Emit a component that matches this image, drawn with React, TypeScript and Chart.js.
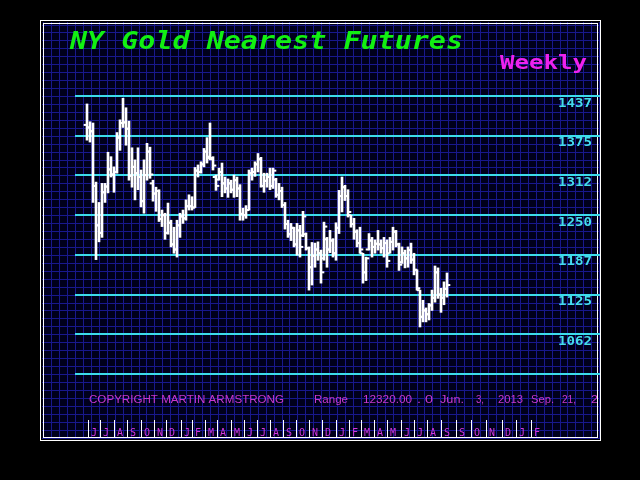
import React, { useEffect, useRef } from 'react';
import { Chart, registerables } from 'chart.js';

Chart.register(...registerables);

// Weekly OHLC, NY Gold nearest futures
const HIGH = [
  1425, 1397, 1395, 1302, 1270, 1300, 1300, 1349, 1342, 1326,
  1380, 1400, 1434, 1419, 1398, 1356, 1337, 1356, 1321, 1337,
  1363, 1357, 1305, 1294, 1290, 1258, 1253, 1269, 1242, 1231,
  1242, 1253, 1258, 1274, 1282, 1279, 1325, 1329, 1334, 1355,
  1372, 1395, 1342, 1313, 1324, 1332, 1310, 1307, 1305, 1313,
  1310, 1298, 1261, 1265, 1321, 1324, 1334, 1347, 1341, 1316,
  1316, 1324, 1324, 1308, 1300, 1294, 1270, 1242, 1237, 1231,
  1237, 1234, 1256, 1222, 1200, 1207, 1206, 1208, 1195, 1239,
  1215, 1226, 1213, 1238, 1289, 1310, 1297, 1290, 1250, 1245,
  1227, 1231, 1190, 1184, 1221, 1215, 1211, 1226, 1211, 1215,
  1211, 1215, 1231, 1226, 1206, 1200, 1195, 1200, 1206, 1190,
  1164, 1132, 1116, 1104, 1111, 1132, 1170, 1167, 1135, 1145,
  1159,
];
const LOW = [
  1368, 1365, 1270, 1180, 1208, 1215, 1270, 1285, 1310, 1286,
  1316, 1352, 1388, 1360, 1305, 1294, 1274, 1290, 1263, 1253,
  1305, 1308, 1272, 1256, 1240, 1232, 1212, 1220, 1200, 1190,
  1184, 1215, 1237, 1242, 1258, 1258, 1262, 1310, 1316, 1326,
  1332, 1337, 1321, 1289, 1305, 1279, 1285, 1278, 1285, 1278,
  1279, 1242, 1242, 1245, 1258, 1305, 1311, 1318, 1294, 1286,
  1294, 1290, 1292, 1278, 1274, 1262, 1228, 1215, 1210, 1200,
  1187, 1184, 1216, 1195, 1132, 1140, 1168, 1179, 1143, 1179,
  1168, 1191, 1184, 1179, 1221, 1255, 1273, 1247, 1231, 1212,
  1200, 1190, 1143, 1147, 1195, 1184, 1190, 1195, 1190, 1184,
  1168, 1190, 1195, 1200, 1163, 1174, 1167, 1168, 1174, 1156,
  1132, 1074, 1082, 1082, 1085, 1100, 1113, 1119, 1097, 1109,
  1121,
];
const OPEN = [
  1392, 1388, 1382, 1296, 1234, 1222, 1286, 1295, 1322, 1314,
  1318, 1372, 1395, 1396, 1386, 1312, 1326, 1316, 1310, 1272,
  1313, 1350, 1300, 1284, 1288, 1244, 1250, 1222, 1238, 1204,
  1196, 1234, 1248, 1245, 1264, 1264, 1262, 1320, 1318, 1330,
  1350, 1342, 1338, 1310, 1306, 1318, 1300, 1292, 1300, 1290,
  1305, 1292, 1252, 1250, 1258, 1316, 1318, 1330, 1338, 1296,
  1304, 1310, 1296, 1306, 1282, 1288, 1266, 1236, 1220, 1230,
  1204, 1226, 1218, 1220, 1198, 1168, 1186, 1196, 1190, 1182,
  1212, 1196, 1210, 1190, 1230, 1280, 1294, 1280, 1250, 1236,
  1224, 1206, 1190, 1160, 1196, 1210, 1200, 1205, 1204, 1198,
  1206, 1190, 1208, 1224, 1204, 1176, 1190, 1182, 1195, 1180,
  1164, 1132, 1090, 1100, 1094, 1108, 1120, 1160, 1125, 1120,
  1134,
];
const CLOSE = [
  1388, 1382, 1296, 1234, 1222, 1286, 1295, 1322, 1314, 1318,
  1372, 1395, 1396, 1386, 1312, 1326, 1316, 1310, 1272, 1313,
  1350, 1314, 1284, 1288, 1244, 1250, 1222, 1238, 1204, 1196,
  1234, 1248, 1245, 1264, 1264, 1262, 1320, 1318, 1330, 1350,
  1340, 1340, 1328, 1296, 1318, 1300, 1292, 1300, 1290, 1305,
  1292, 1252, 1250, 1258, 1316, 1318, 1330, 1338, 1296, 1304,
  1310, 1296, 1320, 1282, 1288, 1266, 1236, 1220, 1230, 1204,
  1226, 1200, 1248, 1198, 1168, 1186, 1196, 1190, 1160, 1232,
  1196, 1210, 1190, 1230, 1280, 1294, 1280, 1255, 1236, 1224,
  1206, 1196, 1160, 1182, 1210, 1200, 1205, 1204, 1198, 1206,
  1178, 1208, 1224, 1204, 1172, 1190, 1182, 1195, 1180, 1164,
  1135, 1090, 1100, 1094, 1108, 1120, 1160, 1125, 1120, 1134,
  1140,
];

const PRICE_LEVELS = [1437.5, 1375, 1312.5, 1250, 1187.5, 1125, 1062.5, 1000];
const PRICE_LABELS = ['1437', '1375', '1312', '1250', '1187', '1125', '1062', ''];

const MONTH_LABELS = [
  'J', 'J', 'A', 'S', 'O', 'N', 'D', 'J', 'F', 'M', 'A', 'M',
  'J', 'J', 'A', 'S', 'O', 'N', 'D', 'J', 'F', 'M', 'A', 'M',
  'J', 'J', 'A', 'S', 'S', 'O', 'N', 'D', 'J', 'F',
];
// month tick positions, in weeks from the first bar
const MONTH_POS = [
  0.2, 4.3, 9.1, 13.4, 18.1, 22.2, 26.4, 31.2, 35.0, 39.2, 43.4, 47.9,
  52.3, 56.8, 61.0, 65.4, 69.8, 74.0, 78.3, 82.9, 87.2, 91.4, 95.5, 99.9,
  104.5, 108.9, 113.4, 118.1, 123.1, 128.1, 133.0, 138.3, 143.1, 148.1,
];

const TITLE = 'NY Gold Nearest Futures';
const SUBTITLE = 'Weekly';
const FOOTER_PARTS: [string, number, number][] = [
  ['COPYRIGHT MARTIN ARMSTRONG', 89, 195],
  ['Range', 314, 34],
  ['12320.00', 363, 49],
  ['. 0', 417, 16],
  ['Jun.', 440, 24],
  ['3,', 476, 8],
  ['2013', 498, 25],
  ['Sep.', 531, 23],
  ['21,', 562, 14],
  ['20', 591, 14],
];

function fitText(ctx: CanvasRenderingContext2D, text: string, x: number, y: number, w: number) {
  const m = ctx.measureText(text).width || 1;
  ctx.save();
  ctx.translate(x, y);
  ctx.scale(w / m, 1);
  ctx.textAlign = 'left';
  ctx.fillText(text, 0, 0);
  ctx.restore();
}

const FRAME = { l: 40, t: 20, r: 601, b: 441 };

const decorPlugin = {
  id: 'decor',
  beforeDraw(chart: any) {
    const ctx: CanvasRenderingContext2D = chart.ctx;
    const ys = chart.scales.y;
    const area = chart.chartArea;
    ctx.save();
    ctx.fillStyle = '#000000';
    ctx.fillRect(0, 0, chart.width, chart.height);
    // panel
    ctx.fillStyle = '#00001c';
    ctx.fillRect(FRAME.l + 2, FRAME.t + 2, FRAME.r - FRAME.l - 4, FRAME.b - FRAME.t - 4);
    // fine blue grid
    const y0 = ys.getPixelForValue(PRICE_LEVELS[0]);
    const y1 = ys.getPixelForValue(PRICE_LEVELS[1]);
    const step = (y1 - y0) / 5;
    ctx.strokeStyle = '#18188e';
    ctx.lineWidth = 1;
    ctx.beginPath();
    for (let y = y0 - Math.floor((y0 - FRAME.t) / step) * step; y < FRAME.b; y += step) {
      const py = Math.round(y) + 0.5;
      ctx.moveTo(FRAME.l + 2, py);
      ctx.lineTo(FRAME.r - 2, py);
    }
    const x0 = area.left;
    for (let x = x0 - Math.floor((x0 - FRAME.l) / step) * step; x < FRAME.r; x += step) {
      const px = Math.round(x) + 0.5;
      ctx.moveTo(px, FRAME.t + 2);
      ctx.lineTo(px, FRAME.b - 2);
    }
    ctx.stroke();
    // double white frame
    ctx.strokeStyle = '#ffffff';
    ctx.lineWidth = 1;
    ctx.strokeRect(FRAME.l + 0.5, FRAME.t + 0.5, FRAME.r - FRAME.l - 1, FRAME.b - FRAME.t - 1);
    ctx.strokeRect(FRAME.l + 3.5, FRAME.t + 3.5, FRAME.r - FRAME.l - 7, FRAME.b - FRAME.t - 7);
    // title
    ctx.fillStyle = '#12f012';
    ctx.font = "italic bold 24px 'DejaVu Sans Mono'";
    ctx.textBaseline = 'alphabetic';
    fitText(ctx, TITLE, 70, 49, 393);
    ctx.fillStyle = '#ee22ee';
    ctx.font = "bold 19px 'DejaVu Sans Mono'";
    fitText(ctx, SUBTITLE, 500, 69, 87);
    ctx.restore();
  },
  afterDatasetsDraw(chart: any) {
    const ctx: CanvasRenderingContext2D = chart.ctx;
    const xs = chart.scales.x;
    const ys = chart.scales.y;
    ctx.save();
    // price labels
    ctx.fillStyle = '#44dcee';
    ctx.font = "bold 13px 'DejaVu Sans Mono'";
    ctx.textBaseline = 'alphabetic';
    PRICE_LEVELS.forEach((v, i) => {
      const t = PRICE_LABELS[i];
      if (!t) return;
      const y = ys.getPixelForValue(v);
      fitText(ctx, t, 558, y + 10.5, 34);
    });
    // footer
    ctx.beginPath();
    ctx.rect(FRAME.l + 4, FRAME.t + 4, FRAME.r - FRAME.l - 8, FRAME.b - FRAME.t - 8);
    ctx.clip();
    ctx.fillStyle = '#c838cc';
    ctx.font = "10px 'Liberation Sans'";
    FOOTER_PARTS.forEach(([t, x, w]) => fitText(ctx, t, x, 403, w));
    // month ticks
    ctx.strokeStyle = '#ffffff';
    ctx.lineWidth = 1;
    ctx.beginPath();
    MONTH_POS.forEach((p) => {
      const x = Math.round(xs.getPixelForValue(p)) + 0.5;
      ctx.moveTo(x, 420);
      ctx.lineTo(x, FRAME.b);
    });
    ctx.stroke();
    ctx.fillStyle = '#d436dc';
    ctx.font = "10px 'DejaVu Sans Mono'";
    MONTH_LABELS.forEach((m, i) => {
      const x = Math.round(xs.getPixelForValue(MONTH_POS[i]));
      ctx.fillText(m, x + 3, 436);
    });
    ctx.restore();
  },
};

export default function App() {
  const ref = useRef<HTMLCanvasElement | null>(null);
  useEffect(() => {
    if (!ref.current) return;
    const idx = HIGH.map((_, i) => i);
    const chart = new Chart(ref.current, {
      type: 'bar',
      data: {
        datasets: [
          {
            type: 'bar',
            data: idx.map((i) => ({ x: i, y: [LOW[i], HIGH[i]] })) as any,
            backgroundColor: '#ffffff',
            borderWidth: 0,
            barThickness: 2,
            order: 2,
          } as any,
          {
            type: 'scatter',
            data: idx.map((i) => ({ x: i - 0.6, y: OPEN[i] })),
            pointStyle: 'line',
            radius: 1.5,
            borderColor: '#ffffff',
            borderWidth: 2,
            order: 1,
          } as any,
          {
            type: 'scatter',
            data: idx.map((i) => ({ x: i + 0.6, y: CLOSE[i] })),
            pointStyle: 'line',
            radius: 1.5,
            borderColor: '#ffffff',
            borderWidth: 2,
            order: 1,
          } as any,
        ],
      },
      options: {
        responsive: false,
        animation: false,
        devicePixelRatio: 1,
        layout: { padding: { left: 75, right: 40, top: 96, bottom: 106 } },
        plugins: { legend: { display: false }, tooltip: { enabled: false } },
        scales: {
          x: { type: 'linear', min: -4, max: 171, display: false, offset: false },
          y: {
            type: 'linear',
            position: 'right',
            min: 1000,
            max: 1437.5,
            grid: { color: '#3cdcec', lineWidth: 2, drawTicks: false },
            border: { display: false },
            ticks: { display: false, stepSize: 62.5 },
          },
        },
      } as any,
      plugins: [decorPlugin],
    });
    return () => chart.destroy();
  }, []);
  return (
    <div style={{ position: 'fixed', left: 0, top: 0, width: 640, height: 480, background: '#000' }}>
      <canvas ref={ref} width={640} height={480} style={{ display: 'block' }} />
    </div>
  );
}
